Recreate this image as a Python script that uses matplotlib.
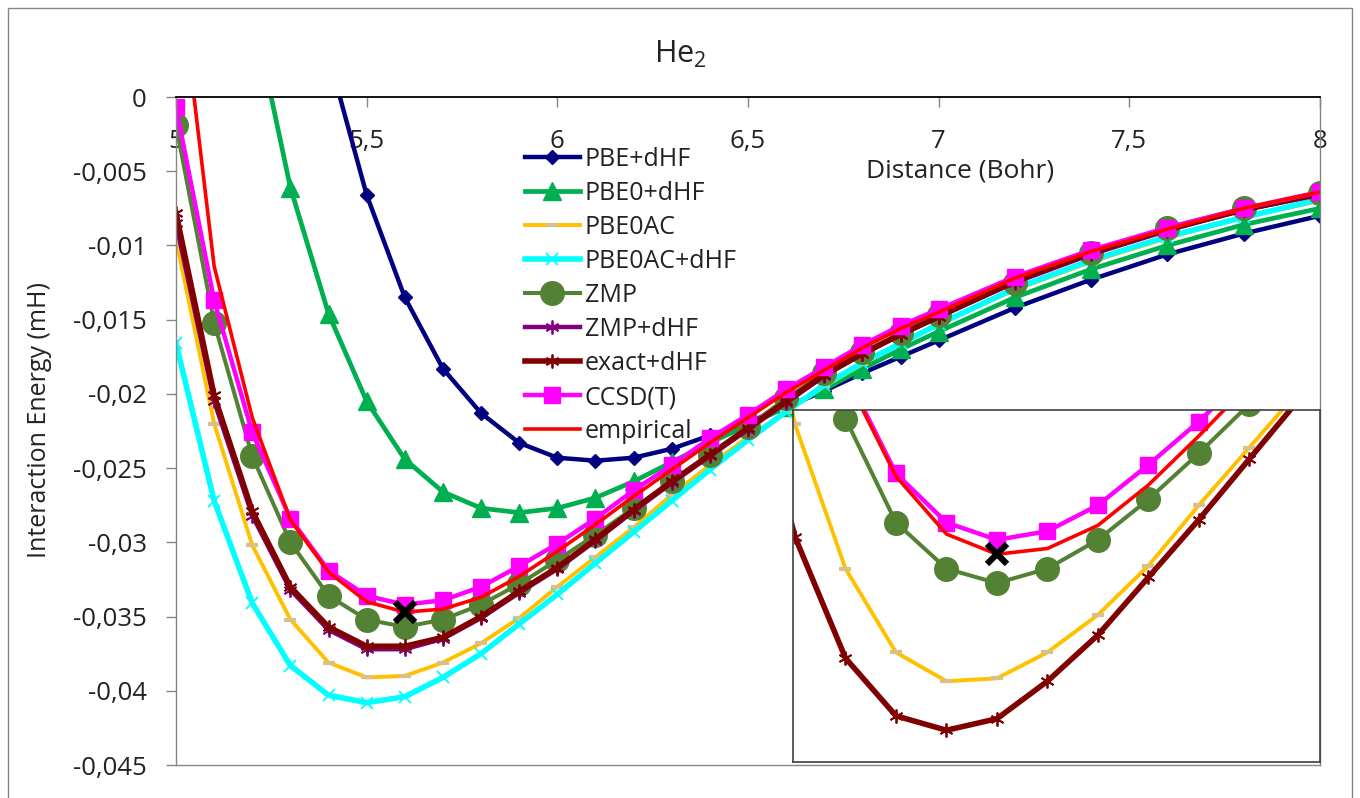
import numpy as np
import matplotlib
matplotlib.use("Agg")
import matplotlib.pyplot as plt
from matplotlib.ticker import FuncFormatter, MultipleLocator
from matplotlib.patches import Rectangle

plt.rcParams["font.family"] = ["Open Sans", "DejaVu Sans"]

# distances (Bohr)
dist = [5.0, 5.1, 5.2, 5.3, 5.4, 5.5, 5.6, 5.7, 5.8, 5.9, 6.0,
        6.1, 6.2, 6.3, 6.4, 6.5, 6.6, 6.7, 6.8, 6.9, 7.0,
        7.2, 7.4, 7.6, 7.8, 8.0]
nan = np.nan

# interaction energies (mH)
pbe_dhf = [nan, nan, nan, nan, 0.0028, -0.0066, -0.0135, -0.0183, -0.0213, -0.0233, -0.0243,
           -0.0245, -0.0243, -0.0237, -0.0228, -0.0219, -0.0209, -0.0198, -0.0186, -0.0175, -0.0164,
           -0.0142, -0.0123, -0.0106, -0.0092, -0.0080]
pbe0_dhf = [nan, nan, 0.0060, -0.0061, -0.0146, -0.0205, -0.0244, -0.0266, -0.0277, -0.0280, -0.0277,
            -0.0270, -0.0259, -0.0246, -0.0233, -0.0221, -0.0209, -0.0197, -0.0183, -0.0170, -0.0158,
            -0.0135, -0.0116, -0.0100, -0.0086, -0.0075]
pbe0ac = [-0.0096, -0.0220, -0.0302, -0.0352, -0.0381, -0.0391, -0.0390, -0.0381, -0.0368, -0.0351, -0.0330,
          -0.0310, -0.0290, -0.0268, -0.0248, -0.0229, -0.0212, -0.0195, -0.0180, -0.0166, -0.0153,
          -0.0130, -0.0111, -0.0095, -0.0081, -0.0070]
pbe0ac_dhf = [-0.0166, -0.0272, -0.0341, -0.0383, -0.0403, -0.0408, -0.0404, -0.0391, -0.0375, -0.0355, -0.0335,
              -0.0314, -0.0293, -0.0272, -0.0251, -0.0231, -0.0212, -0.0194, -0.0179, -0.0166, -0.0153,
              -0.0129, -0.0110, -0.0094, -0.0081, -0.0069]
zmp = [-0.0019, -0.0152, -0.0242, -0.0300, -0.0336, -0.0352, -0.0357, -0.0352, -0.0342, -0.0328, -0.0312,
       -0.0295, -0.0277, -0.0259, -0.0241, -0.0222, -0.0203, -0.0186, -0.0172, -0.0159, -0.0147,
       -0.0125, -0.0105, -0.0088, -0.0075, -0.0065]
zmp_dhf = [-0.0085, -0.0205, -0.0282, -0.0332, -0.0359, -0.0372, -0.0372, -0.0365, -0.0351, -0.0334, -0.0318,
           -0.0299, -0.0279, -0.0260, -0.0242, -0.0224, -0.0206, -0.0188, -0.0173, -0.0160, -0.0148,
           -0.0125, -0.0106, -0.0090, -0.0076, -0.0066]
exact_dhf = [-0.0078, -0.0201, -0.0279, -0.0330, -0.0357, -0.0370, -0.0370, -0.0364, -0.0350, -0.0333, -0.0317,
             -0.0298, -0.0278, -0.0259, -0.0241, -0.0223, -0.0205, -0.0187, -0.0173, -0.0160, -0.0148,
             -0.0124, -0.0105, -0.0089, -0.0076, -0.0065]
ccsdt = [-0.0007, -0.0137, -0.0226, -0.0284, -0.0319, -0.0336, -0.0342, -0.0339, -0.0330, -0.0316, -0.0301,
         -0.0284, -0.0265, -0.0248, -0.0230, -0.0214, -0.0197, -0.0182, -0.0167, -0.0154, -0.0143,
         -0.0121, -0.0103, -0.0088, -0.0075, -0.0064]
empirical = [0.0102, -0.0114, -0.0216, -0.0285, -0.0320, -0.0340, -0.0347, -0.0345, -0.0337, -0.0323, -0.0306,
             -0.0288, -0.0269, -0.0251, -0.0233, -0.0216, -0.0199, -0.0184, -0.0169, -0.0156, -0.0145,
             -0.0122, -0.0104, -0.0089, -0.0075, -0.0064]
min_x = [5.6]
min_y = [-0.0347]

txt = "#222222"
grey = "#868686"
star = (6, 2, 0)


def comma(v, pos):
    return "{:g}".format(round(v, 4)).replace(".", ",")


fig = plt.figure(figsize=(13.6, 7.98), dpi=100)
ax = fig.add_axes([176 / 1360, 33 / 798, 1144 / 1360, 668 / 798])

ax.plot(dist, pbe_dhf, color="#000080", lw=3.2, marker="D", ms=7.5, label="PBE+dHF")
ax.plot(dist, pbe0_dhf, color="#00B050", lw=3.4, marker="^", ms=13, label="PBE0+dHF")
ax.plot(dist, pbe0ac, color="#FFC000", lw=2.8, marker="_", ms=9, mew=3, mec="#D8C08A", label="PBE0AC")
ax.plot(dist, pbe0ac_dhf, color="#00FFFF", lw=4.0, marker="x", ms=9, mew=1.3, label="PBE0AC+dHF")
ax.plot(dist, zmp, color="#548235", lw=2.9, marker="o", ms=17, label="ZMP")
ax.plot(dist, zmp_dhf, color="#800080", lw=3.2, marker=star, ms=10, mew=1.3, label="ZMP+dHF")
ax.plot(dist, exact_dhf, color="#800000", lw=4.0, marker=star, ms=10, mew=1.3, label="exact+dHF")
ax.plot(dist, ccsdt, color="#FF00FF", lw=3.2, marker="s", ms=11.5, label="CCSD(T)")
ax.plot(dist, empirical, color="#FF0000", lw=2.6, label="empirical")
ax.plot(min_x, min_y, ls="none", marker="x", ms=14, mew=4.5, color="black")

ax.set_xlim(5, 8)
ax.set_ylim(-0.045, 0)
ax.xaxis.set_major_locator(MultipleLocator(0.5))
ax.yaxis.set_major_locator(MultipleLocator(0.005))
ax.xaxis.set_major_formatter(FuncFormatter(comma))
ax.yaxis.set_major_formatter(FuncFormatter(comma))

ax.xaxis.set_ticks_position("top")
ax.tick_params(axis="x", direction="in", length=7, width=1, color=grey,
               labelsize=18.5, labelcolor=txt, pad=-41)
ax.tick_params(axis="y", direction="out", length=7, width=1, color=grey,
               labelsize=18.5, labelcolor=txt, pad=14)
for s in ["left", "right", "bottom"]:
    ax.spines[s].set_color(grey)
    ax.spines[s].set_linewidth(1)
ax.spines["top"].set_color("black")
ax.spines["top"].set_linewidth(1.3)

ax.set_xlabel("Distance (Bohr)", fontsize=19, color=txt)
ax.xaxis.set_label_coords(0.6853, 0.908)
ax.set_ylabel("Interaction Energy (mH)", fontsize=18, color=txt)
ax.yaxis.set_label_coords(-0.108, 0.516)

fig.text(0.5, 1 - 54 / 798, r"$\mathregular{He_2}$", ha="center", va="center",
         fontsize=22, color=txt)

ax.legend(loc="upper left", bbox_to_anchor=(0.305, 0.925), frameon=False,
          fontsize=18, handlelength=2.2, handletextpad=0.2, labelspacing=0.36,
          borderpad=0, borderaxespad=0, labelcolor=txt)

# inset with the region around the minimum
ins = fig.add_axes([793 / 1360, 36 / 798, 527 / 1360, 352 / 798], zorder=5)
ins.plot(dist, pbe0ac, color="#FFC000", lw=2.8, marker="_", ms=9, mew=3, mec="#D8C08A")
ins.plot(dist, zmp, color="#548235", lw=2.9, marker="o", ms=17)
ins.plot(dist, pbe0ac_dhf, color="#800000", lw=4.0, marker=star, ms=10, mew=1.3)
ins.plot(dist, ccsdt, color="#FF00FF", lw=3.2, marker="s", ms=11.5)
ins.plot(dist, empirical, color="#FF0000", lw=2.6)
ins.plot(min_x, min_y, ls="none", marker="x", ms=14, mew=4.5, color="black")
ins.set_xlim(5.196, 6.24)
ins.set_ylim(-0.0419, -0.0297)
ins.set_xticks([])
ins.set_yticks([])
for s in ins.spines.values():
    s.set_color("#404040")
    s.set_linewidth(1.2)

fig.patches.append(Rectangle((8 / 1360, -0.01), 1344 / 1360, 1.0 - 8 / 798 + 0.01,
                             transform=fig.transFigure, fill=False,
                             edgecolor=grey, lw=1))

fig.savefig("out.png", dpi=100)
